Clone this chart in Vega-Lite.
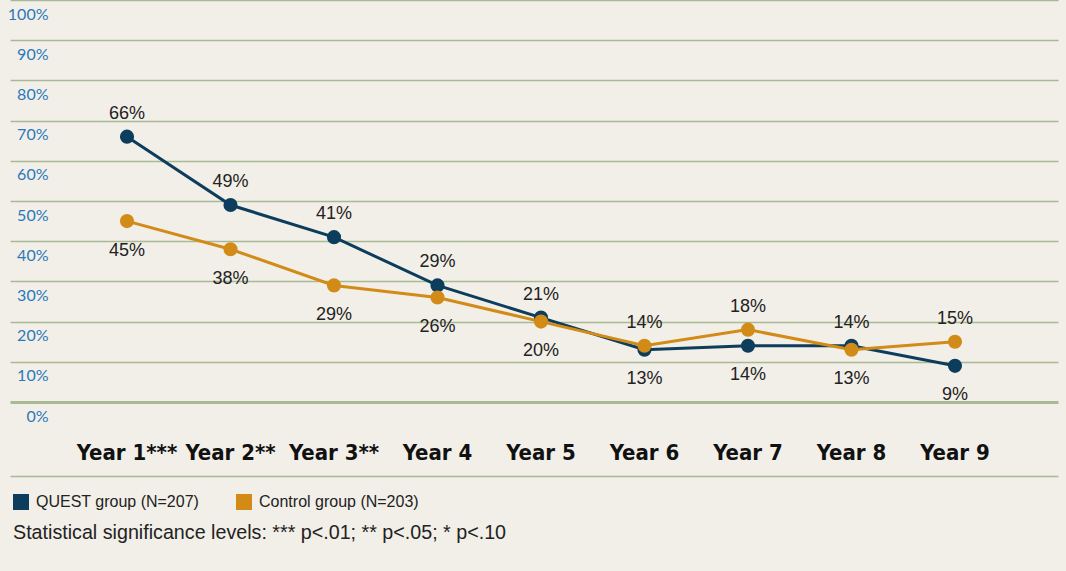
{
  "$schema": "https://vega.github.io/schema/vega-lite/v6.json",
  "autosize": {"type": "none"},
  "width": 1048,
  "height": 402,
  "padding": {"left": 10, "top": 0, "right": 8, "bottom": 169},
  "background": "#f2efe8",
  "config": {
    "view": {"stroke": null},
    "font": "Liberation Sans"
  },
  "data": {
    "values": [
      {"year": "Year 1***", "group": "QUEST group (N=207)", "value": 0.66},
      {"year": "Year 2**", "group": "QUEST group (N=207)", "value": 0.49},
      {"year": "Year 3**", "group": "QUEST group (N=207)", "value": 0.41},
      {"year": "Year 4", "group": "QUEST group (N=207)", "value": 0.29},
      {"year": "Year 5", "group": "QUEST group (N=207)", "value": 0.21},
      {"year": "Year 6", "group": "QUEST group (N=207)", "value": 0.13},
      {"year": "Year 7", "group": "QUEST group (N=207)", "value": 0.14},
      {"year": "Year 8", "group": "QUEST group (N=207)", "value": 0.14},
      {"year": "Year 9", "group": "QUEST group (N=207)", "value": 0.09},
      {"year": "Year 1***", "group": "Control group (N=203)", "value": 0.45},
      {"year": "Year 2**", "group": "Control group (N=203)", "value": 0.38},
      {"year": "Year 3**", "group": "Control group (N=203)", "value": 0.29},
      {"year": "Year 4", "group": "Control group (N=203)", "value": 0.26},
      {"year": "Year 5", "group": "Control group (N=203)", "value": 0.20},
      {"year": "Year 6", "group": "Control group (N=203)", "value": 0.14},
      {"year": "Year 7", "group": "Control group (N=203)", "value": 0.18},
      {"year": "Year 8", "group": "Control group (N=203)", "value": 0.13},
      {"year": "Year 9", "group": "Control group (N=203)", "value": 0.15}
    ]
  },
  "encoding": {
    "x": {
      "field": "year",
      "type": "ordinal",
      "sort": null,
      "scale": {"type": "band", "paddingInner": 0, "paddingOuter": 0.563, "align": 0.56},
      "axis": {
        "title": null,
        "orient": "bottom",
        "offset": 74,
        "domain": true,
        "domainColor": "#a9b993",
        "domainWidth": 1.5,
        "ticks": false,
        "grid": false,
        "labelAngle": 0,
        "labelPadding": -24,
        "labelBaseline": "middle",
        "labelFont": "DejaVu Sans Condensed",
        "labelFontWeight": "bold",
        "labelFontSize": 22,
        "labelColor": "#111111"
      }
    },
    "y": {
      "field": "value",
      "type": "quantitative",
      "scale": {"domain": [0, 1], "nice": false},
      "axis": {
        "title": null,
        "values": [0, 0.1, 0.2, 0.3, 0.4, 0.5, 0.6, 0.7, 0.8, 0.9, 1],
        "format": ".0%",
        "domain": false,
        "ticks": false,
        "grid": true,
        "gridColor": "#a9b993",
        "gridWidth": {"condition": {"test": "datum.value === 0", "value": 3}, "value": 1.5},
        "labelAlign": "right",
        "labelBaseline": "middle",
        "labelPadding": -38,
        "labelOffset": 14,
        "labelFont": "Lato",
        "labelFontSize": 16,
        "labelColor": "#2a78bb"
      }
    },
    "color": {
      "field": "group",
      "type": "nominal",
      "sort": null,
      "scale": {
        "domain": ["QUEST group (N=207)", "Control group (N=203)"],
        "range": ["#0c3d5c", "#d38b18"]
      },
      "legend": {
        "orient": "none",
        "legendX": 3,
        "legendY": 494,
        "direction": "horizontal",
        "padding": 0,
        "symbolType": "square",
        "symbolSize": 256,
        "symbolStrokeWidth": 0,
        "symbolOpacity": 1,
        "labelOffset": 7,
        "labelFontSize": 16,
        "labelLimit": 400,
        "labelColor": "#222222",
        "labelFont": "Liberation Sans",
        "columnPadding": 36,
        "title": "Statistical significance levels: *** p<.01; ** p<.05; * p<.10",
        "titleOrient": "bottom",
        "titleAnchor": "start",
        "titleFontSize": 19.7,
        "titleFontWeight": "normal",
        "titleColor": "#222222",
        "titleFont": "Liberation Sans",
        "titlePadding": 13,
        "titleLimit": 800
      }
    }
  },
  "layer": [
    {"mark": {"type": "line", "strokeWidth": 3}},
    {"mark": {"type": "point", "filled": true, "size": 200, "opacity": 1}},
    {
      "transform": [
        {"joinaggregate": [{"op": "max", "field": "value", "as": "top"}], "groupby": ["year"]},
        {"filter": "datum.value === datum.top"}
      ],
      "mark": {"type": "text", "dy": -23, "fontSize": 18, "baseline": "middle"},
      "encoding": {
        "text": {"field": "value", "type": "quantitative", "format": ".0%"},
        "color": {"value": "#222222"}
      }
    },
    {
      "transform": [
        {"joinaggregate": [{"op": "max", "field": "value", "as": "top"}], "groupby": ["year"]},
        {"filter": "datum.value < datum.top"}
      ],
      "mark": {"type": "text", "dy": 29.5, "fontSize": 18, "baseline": "middle"},
      "encoding": {
        "text": {"field": "value", "type": "quantitative", "format": ".0%"},
        "color": {"value": "#222222"}
      }
    }
  ]
}
